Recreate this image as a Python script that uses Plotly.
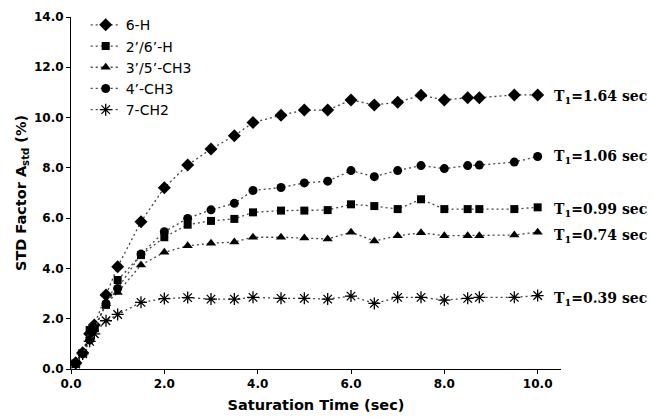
import plotly.graph_objects as go

time_s = [0.1, 0.25, 0.4, 0.5, 0.75, 1.0, 1.5, 2.0, 2.5, 3.0, 3.5, 3.9, 4.5, 5.0,
          5.5, 6.0, 6.5, 7.0, 7.5, 8.0, 8.5, 8.75, 9.5, 10.0]

h6 = [0.25, 0.65, 1.4, 1.75, 2.94, 4.07, 5.86, 7.21, 8.11, 8.75, 9.28, 9.80, 10.09, 10.30,
      10.30, 10.70, 10.50, 10.61, 10.89, 10.70, 10.79, 10.79, 10.90, 10.90]
h26 = [0.22, 0.62, 1.55, 1.68, 2.55, 3.54, 4.53, 5.24, 5.74, 5.89, 5.97, 6.23, 6.30, 6.30,
       6.32, 6.55, 6.48, 6.36, 6.75, 6.36, 6.36, 6.36, 6.36, 6.43]
ch3_35 = [0.20, 0.60, 1.20, 1.55, 2.60, 3.04, 4.14, 4.64, 4.90, 5.00, 5.05, 5.24, 5.24, 5.21,
          5.17, 5.44, 5.09, 5.30, 5.42, 5.30, 5.30, 5.30, 5.33, 5.44]
ch3_4 = [0.20, 0.62, 1.15, 1.60, 2.60, 3.20, 4.57, 5.46, 5.99, 6.33, 6.59, 7.10, 7.22, 7.40,
         7.47, 7.89, 7.65, 7.89, 8.09, 7.97, 8.09, 8.11, 8.23, 8.45]
ch2_7 = [0.20, 0.60, 1.10, 1.40, 1.92, 2.17, 2.65, 2.80, 2.84, 2.78, 2.78, 2.85, 2.81, 2.81,
         2.78, 2.90, 2.61, 2.85, 2.85, 2.74, 2.81, 2.85, 2.85, 2.92]

series_names = ["6-H", "2’/6’-H", "3’/5’-CH3", "4’-CH3", "7-CH2"]
series_values = [h6, h26, ch3_35, ch3_4, ch2_7]
symbols = ["diamond", "square", "triangle-up", "circle", "asterisk-open"]
sizes = [10, 8, 9, 9, 10]

t1_labels = ["T<sub>1</sub>=1.64 sec", "T<sub>1</sub>=1.06 sec", "T<sub>1</sub>=0.99 sec",
             "T<sub>1</sub>=0.74 sec", "T<sub>1</sub>=0.39 sec"]
t1_y = [10.82, 8.43, 6.32, 5.29, 2.78]

fig = go.Figure()
for name, vals, sym, sz in zip(series_names, series_values, symbols, sizes):
    marker = dict(symbol=sym, size=sz, color="black")
    if sym == "asterisk-open":
        marker["line"] = dict(color="black", width=1.3)
    fig.add_trace(go.Scatter(
        x=time_s, y=vals, name=name, mode="lines+markers",
        line=dict(color="#444444", width=1.3, dash="2px,3px"),
        marker=marker,
    ))

for lab, yv in zip(t1_labels, t1_y):
    fig.add_annotation(
        x=0.982, xref="paper", y=yv, yref="y", text=lab, showarrow=False,
        xanchor="left", yanchor="middle",
        font=dict(family="DejaVu Serif", size=14, color="black", weight="bold"),
    )

axis_font = dict(family="DejaVu Sans", size=12, color="black", weight="bold")
title_font = dict(family="DejaVu Sans", size=14.5, color="black", weight="bold")
fig.update_layout(
    width=652, height=418,
    margin=dict(l=71, r=91, t=17, b=49, autoexpand=False),
    paper_bgcolor="white", plot_bgcolor="white",
    showlegend=True,
    legend=dict(
        x=0.03, y=1.022, xanchor="left", yanchor="top",
        font=dict(family="DejaVu Sans", size=14, color="black"),
        bgcolor="rgba(0,0,0,0)", itemwidth=30, tracegroupgap=0,
    ),
    xaxis=dict(
        range=[0, 10.5], tickvals=[0, 2, 4, 6, 8, 10],
        ticktext=["0.0", "2.0", "4.0", "6.0", "8.0", "10.0"],
        showgrid=False, zeroline=False, showline=True, linecolor="black", linewidth=1,
        ticks="outside", ticklen=4, tickcolor="black", tickfont=axis_font,
        title=dict(text="Saturation Time (sec)", standoff=9, font=title_font),
    ),
    yaxis=dict(
        range=[0, 14], tickvals=[0, 2, 4, 6, 8, 10, 12, 14],
        ticktext=["0.0", "2.0", "4.0", "6.0", "8.0", "10.0", "12.0", "14.0"],
        showgrid=False, zeroline=False, showline=True, linecolor="black", linewidth=1,
        ticks="outside", ticklen=4, tickcolor="black", tickfont=axis_font,
        title=dict(text="STD Factor A<sub>std</sub> (%)", standoff=3, font=title_font),
    ),
)

fig.write_html("out.html")
